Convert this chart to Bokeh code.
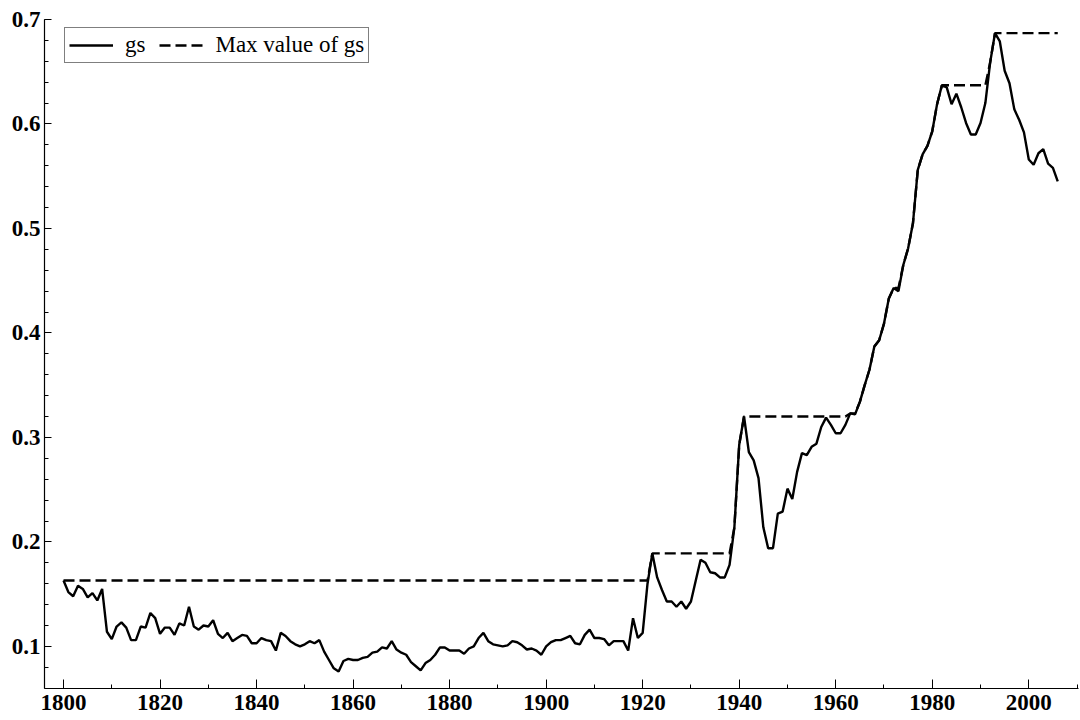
import numpy as np
from bokeh.plotting import figure
from bokeh.models import Range1d, FixedTicker, Legend, LegendItem
from bokeh.embed import file_html
from bokeh.resources import INLINE

years = list(range(1800, 2007))

gs = [
    # 1800-1809
    0.163, 0.152, 0.148, 0.158, 0.155, 0.147, 0.151, 0.144, 0.155, 0.114,
    # 1810-1819
    0.107, 0.119, 0.123, 0.118, 0.106, 0.106, 0.119, 0.118, 0.132, 0.127,
    # 1820-1829
    0.112, 0.118, 0.118, 0.111, 0.122, 0.120, 0.138, 0.119, 0.116, 0.120,
    # 1830-1839
    0.119, 0.125, 0.112, 0.108, 0.113, 0.105, 0.108, 0.111, 0.110, 0.103,
    # 1840-1849
    0.103, 0.108, 0.106, 0.105, 0.096, 0.113, 0.110, 0.105, 0.102, 0.100,
    # 1850-1859
    0.102, 0.105, 0.103, 0.106, 0.095, 0.087, 0.079, 0.076, 0.086, 0.088,
    # 1860-1869
    0.087, 0.087, 0.089, 0.090, 0.094, 0.095, 0.099, 0.098, 0.105, 0.097,
    # 1870-1879
    0.094, 0.092, 0.085, 0.081, 0.077, 0.084, 0.087, 0.092, 0.099, 0.099,
    # 1880-1889
    0.096, 0.096, 0.096, 0.093, 0.098, 0.100, 0.108, 0.113, 0.105, 0.102,
    # 1890-1899
    0.101, 0.100, 0.101, 0.105, 0.104, 0.101, 0.097, 0.098, 0.096, 0.092,
    # 1900-1909
    0.100, 0.104, 0.106, 0.106, 0.108, 0.110, 0.103, 0.102, 0.111, 0.116,
    # 1910-1919
    0.108, 0.108, 0.107, 0.101, 0.105, 0.105, 0.105, 0.096, 0.127, 0.108,
    # 1920-1929
    0.113, 0.160, 0.189, 0.166, 0.154, 0.143, 0.143, 0.138, 0.143, 0.136,
    # 1930-1939
    0.143, 0.163, 0.183, 0.180, 0.171, 0.170, 0.166, 0.166, 0.178, 0.214,
    # 1940-1949
    0.293, 0.320, 0.286, 0.278, 0.261, 0.214, 0.194, 0.194, 0.227, 0.229,
    # 1950-1959
    0.251, 0.241, 0.267, 0.285, 0.283, 0.291, 0.294, 0.310, 0.319, 0.312,
    # 1960-1969
    0.304, 0.304, 0.312, 0.323, 0.322, 0.334, 0.350, 0.365, 0.387, 0.393,
    # 1970-1979
    0.409, 0.433, 0.443, 0.440, 0.465, 0.481, 0.505, 0.556, 0.571, 0.579,
    # 1980-1989
    0.593, 0.619, 0.637, 0.635, 0.619, 0.629, 0.616, 0.601, 0.590, 0.590,
    # 1990-1999
    0.601, 0.620, 0.659, 0.687, 0.679, 0.651, 0.639, 0.614, 0.604, 0.592,
    # 2000-2006
    0.566, 0.561, 0.572, 0.576, 0.562, 0.558, 0.545,
]

# "Max value of gs": running maximum of the series
gs_max = list(np.maximum.accumulate(np.array(gs)))

x_major = list(range(1800, 2001, 20))
x_minor = list(range(1790, 2011, 10))
y_major = [0.1, 0.2, 0.3, 0.4, 0.5, 0.6, 0.7]
y_minor = [round(0.06 + 0.02 * i, 2) for i in range(33)]

FONT = "Liberation Serif"

p = figure(width=1080, height=720, output_backend="svg", toolbar_location=None,
           x_range=Range1d(1796.06, 2010.3), y_range=Range1d(0.0597, 0.7),
           min_border_left=44, min_border_right=2, min_border_top=19,
           min_border_bottom=32)

p.outline_line_color = None
p.grid.visible = False
p.background_fill_color = "white"
p.border_fill_color = "white"

r1 = p.line(years, gs, line_color="black", line_width=2.4)
r2 = p.line(years, gs_max, line_color="black", line_width=2.4, line_dash="11 5")

for ax in (p.xaxis[0], p.yaxis[0]):
    ax.axis_line_color = "black"
    ax.axis_line_width = 1.2
    ax.major_tick_line_color = "black"
    ax.minor_tick_line_color = "black"
    ax.major_tick_out = 0
    ax.minor_tick_out = 0
    ax.major_label_text_font = FONT
    ax.major_label_text_font_style = "bold"
    ax.major_label_text_font_size = "23px"
    ax.major_label_text_color = "black"

p.xaxis[0].ticker = FixedTicker(ticks=x_major, minor_ticks=x_minor)
p.xaxis[0].major_tick_in = 9
p.xaxis[0].minor_tick_in = 4
p.xaxis[0].major_label_standoff = 6

p.yaxis[0].ticker = FixedTicker(ticks=y_major, minor_ticks=y_minor)
p.yaxis[0].major_tick_in = 7
p.yaxis[0].minor_tick_in = 4
p.yaxis[0].major_label_standoff = 4

legend = Legend(items=[LegendItem(label="gs", renderers=[r1]),
                       LegendItem(label="Max value of gs", renderers=[r2])],
                orientation="horizontal", location=(20, 625), margin=0,
                padding=4, spacing=14, label_standoff=12,
                glyph_width=44, glyph_height=20, label_height=20,
                label_text_font=FONT, label_text_font_size="23px",
                label_text_color="black",
                border_line_color="black", border_line_width=1,
                background_fill_alpha=1.0)
p.add_layout(legend, "center")

open("out.html", "w").write(file_html(p, INLINE))
